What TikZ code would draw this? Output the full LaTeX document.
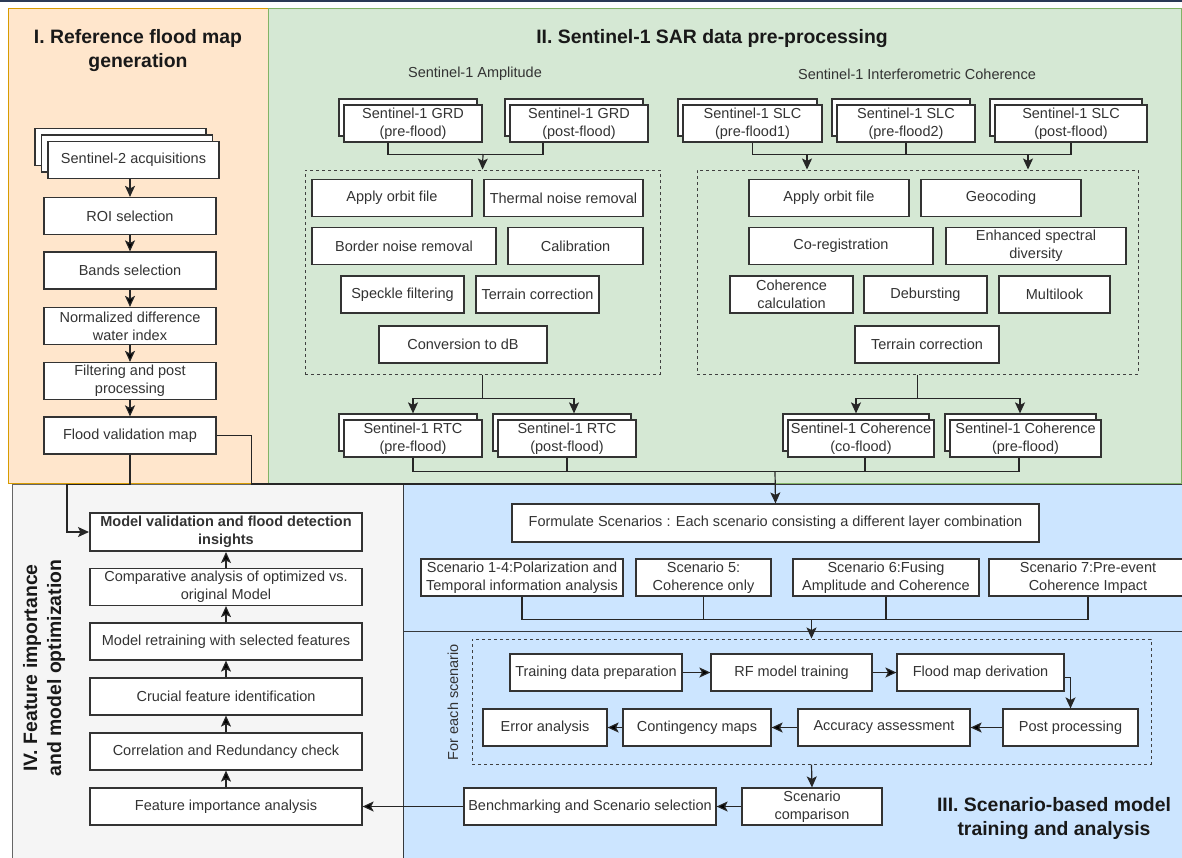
\documentclass[tikz,border=0pt]{standalone}
\usepackage{fontspec}
\setmainfont{Liberation Sans}
\usepackage{tikz}
\usetikzlibrary{positioning}
\usetikzlibrary{calc}
\usetikzlibrary{arrows.meta,shadows}

\definecolor{orangebg}{HTML}{FFE6CC}
\definecolor{orangeln}{HTML}{D79B00}
\definecolor{greenbg}{HTML}{D5E8D4}
\definecolor{greenln}{HTML}{82B366}
\definecolor{graybg}{HTML}{F5F5F5}
\definecolor{grayln}{HTML}{666666}
\definecolor{bluebg}{HTML}{CCE5FF}
\definecolor{blueln}{HTML}{36393D}
\definecolor{topbar}{HTML}{2B3A55}

\newcommand\boxfont{\fontsize{14.5}{18}\selectfont}
\newcommand\headfont{\fontsize{19.4}{24}\selectfont\bfseries}

\tikzset{
  stage/.style={draw=black!80, fill=white, line width=1.2pt, align=center, inner sep=1pt,
    minimum height=37pt, font=\boxfont, text=black!80},
  stack/.style={stage, copy shadow={shadow xshift=-5pt, shadow yshift=6pt}},
  stackthree/.style={stage, double copy shadow={shadow xshift=-6.5pt, shadow yshift=6.5pt}},
  group/.style={draw=black!75, dash pattern=on 3pt off 3pt, line width=1pt},
  flow/.style={line width=1.2pt, draw=black!85, -{Stealth[length=11pt,width=10pt,inset=2.5pt]}},
  link/.style={line width=1.2pt, draw=black!85},
  headline/.style={font=\headfont, align=center, text=black!90},
  caption/.style={font=\boxfont, text=black!80}
}

\begin{document}
\begin{tikzpicture}[x=1pt,y=-1pt]

  \useasboundingbox (0,0) rectangle (1182,857);
  \fill[topbar] (0,0) rectangle (1182,1.5);

  % regions
  \filldraw[fill=orangebg, draw=orangeln, line width=1pt] (8,8) rectangle (268,483);
  \filldraw[fill=greenbg, draw=greenln, line width=1pt] (268,8) rectangle (1181,483);
  \filldraw[fill=graybg, draw=grayln, line width=1pt] (12,484) rectangle (403,862);
  \filldraw[fill=bluebg, draw=blueln, line width=1pt] (403,484) rectangle (1186,631);
  \filldraw[fill=bluebg, draw=blueln, line width=1pt] (403,631) rectangle (1186,862);

  % I. reference flood map
  \node[headline] (refhead) at (138,51) {I. Reference flood map\\generation};
  \node[stackthree, minimum width=171pt] (s2) at (133.5,160) {Sentinel-2 acquisitions};
  \node[stage, minimum width=172pt] (roi) at (130,216) {ROI selection};
  \node[stage, minimum width=172pt] (bands) at (130,270.5) {Bands selection};
  \node[stage, minimum width=172pt] (ndwi) at (130,326) {Normalized difference\\water index};
  \node[stage, minimum width=172pt] (filt) at (130,381) {Filtering and post\\processing};
  \node[stage, minimum width=172pt] (fvm) at (130,435.5) {Flood validation map};
  \draw[flow] (s2.south -| roi.north) -- (roi.north);
  \path[flow] (roi) edge (bands) (bands) edge (ndwi) (ndwi) edge (filt) (filt) edge (fvm);

  % II. SAR pre-processing
  \node[headline] (sarhead) at (712,39) {II. Sentinel-1 SAR data pre-processing};
  \node[caption] (amplab) at (475,74) {Sentinel-1 Amplitude};
  \node[caption] (cohlab) at (917,74) {Sentinel-1 Interferometric Coherence};

  \node[stack, minimum width=138pt] (grdpre) at (413,123.5) {Sentinel-1 GRD\\(pre-flood)};
  \node[stack, minimum width=138pt] (grdpost) at (579,123.5) {Sentinel-1 GRD\\(post-flood)};
  \node[group, minimum width=355pt, minimum height=204pt] (ampgrp) at (482.5,272) {};
  \node[stage, minimum width=160pt] (orbit1) at (392,198) {Apply orbit file};
  \node[stage, minimum width=159pt] (thermal) at (563.5,198) {Thermal noise removal};
  \node[stage, minimum width=184pt] (border) at (404,246) {Border noise removal};
  \node[stage, minimum width=135pt] (calib) at (575.5,246) {Calibration};
  \node[stage, minimum width=123pt] (speckle) at (402.5,294.5) {Speckle filtering};
  \node[stage, minimum width=123pt] (terrain1) at (537.5,294.5) {Terrain correction};
  \node[stage, minimum width=168pt] (todb) at (463,344.5) {Conversion to dB};
  \node[stack, minimum width=138pt] (rtcpre) at (413,438.5) {Sentinel-1 RTC\\(pre-flood)};
  \node[stack, minimum width=138pt] (rtcpost) at (567,438.5) {Sentinel-1 RTC\\(post-flood)};

  \coordinate (ampsplit) at (483,154);
  \draw[link] ([xshift=-25pt]grdpre.south) -- ++(0,12) -| ([xshift=-36pt]grdpost.south);
  \draw[flow] (ampsplit) -- (ampgrp.north);
  \draw[link] (ampgrp.south) -- ++(0,24) coordinate (amprtc);
  \draw[flow] (amprtc) -| ([yshift=6pt]rtcpre.north);
  \draw[flow] (amprtc) -| ([yshift=6pt,xshift=7pt]rtcpost.north);

  \node[stack, minimum width=139pt] (slc1) at (752.5,123.5) {Sentinel-1 SLC\\(pre-flood1)};
  \node[stack, minimum width=138pt] (slc2) at (906,123.5) {Sentinel-1 SLC\\(pre-flood2)};
  \node[stack, minimum width=152pt] (slc3) at (1071,123.5) {Sentinel-1 SLC\\(post-flood)};
  \node[group, minimum width=441pt, minimum height=204pt] (cohgrp) at (917.5,272) {};
  \node[stage, minimum width=160pt] (orbit2) at (829,198) {Apply orbit file};
  \node[stage, minimum width=160pt] (geocod) at (1001,198) {Geocoding};
  \node[stage, minimum width=184pt] (coreg) at (841,246) {Co-registration};
  \node[stage, minimum width=180pt] (esd) at (1036,246) {Enhanced spectral\\diversity};
  \node[stage, minimum width=123pt] (cohcalc) at (791.5,294.5) {Coherence\\calculation};
  \node[stage, minimum width=123pt] (deburst) at (925.5,294.5) {Debursting};
  \node[stage, minimum width=111pt] (multilook) at (1054.5,294.5) {Multilook};
  \node[stage, minimum width=144pt] (terrain2) at (927,344.5) {Terrain correction};
  \node[stack, minimum width=146pt] (coh1) at (861,438.5) {Sentinel-1 Coherence\\(co-flood)};
  \node[stack, minimum width=151pt] (coh2) at (1025.5,438.5) {Sentinel-1 Coherence\\(pre-flood)};

  \coordinate (slcleft) at (807,154);
  \coordinate (slcright) at (1028,154);
  \draw[link] (slc1.south) -- ++(0,12) -| (slc3.south);
  \draw[link] (slc2.south) -- ++(0,12);
  \draw[flow] (slcleft) -- (slcleft |- cohgrp.north);
  \draw[flow] (slcright) -- (slcright |- cohgrp.north);
  \draw[link] (cohgrp.south) -- ++(0,24) coordinate (cohsplit);
  \draw[flow] (cohsplit) -| ([yshift=6pt,xshift=-5pt]coh1.north);
  \draw[flow] (cohsplit) -| ([yshift=6pt,xshift=-5.5pt]coh2.north);

  % merge into scenarios
  \coordinate (merge) at (775,471);
  \coordinate (fvmjoin) at (775,484);
  \draw[link] (rtcpre.south) -- ++(0,14) -| ([xshift=-6.5pt]coh2.south);
  \draw[link] (rtcpost.south) -- ++(0,14);
  \draw[link] ([xshift=4pt]coh1.south) -- ++(0,14);
  \draw[link] (fvm.east) -- ++(35,0) |- (fvmjoin);

  % III. scenarios
  \node[stage, minimum width=527pt, minimum height=38pt] (formulate) at (775.5,523) {Formulate Scenarios : Each scenario consisting a different layer combination};
  \draw[flow] (merge) -- (formulate.north);
  \node[stage, minimum width=202pt] (sc14) at (522,577.5) {Scenario 1-4:Polarization and\\Temporal information analysis};
  \node[stage, minimum width=135pt] (sc5) at (703.5,577.5) {Scenario 5:\\Coherence only};
  \node[stage, minimum width=186pt] (sc6) at (886,577.5) {Scenario 6:Fusing\\Amplitude and Coherence};
  \node[stage, minimum width=198pt] (sc7) at (1088,577.5) {Scenario 7:Pre-event\\Coherence Impact};
  \draw[link] (sc14.south) -- ++(0,23) -| (sc7.south);
  \draw[link] (sc5.south) -- ++(0,23);
  \draw[link] (sc6.south) -- ++(0,23);

  \node[group, minimum width=679pt, minimum height=125pt] (loop) at (811.5,701.5) {};
  \coordinate (scmerge) at (811.5,619.5);
  \draw[flow] (scmerge) -- (loop.north);
  \node[caption, rotate=90] (eachlbl) at (453,702) {For each scenario};
  \node[stage, minimum width=172pt] (tdp) at (596,672.5) {Training data preparation};
  \node[stage, minimum width=161pt] (rftrain) at (791.5,672.5) {RF model training};
  \node[stage, minimum width=167pt] (fmd) at (980.5,672.5) {Flood map derivation};
  \node[stage, minimum width=124pt] (errana) at (545,727.5) {Error analysis};
  \node[stage, minimum width=148pt] (contin) at (697,727.5) {Contingency maps};
  \node[stage, minimum width=172pt] (accass) at (884,727.5) {Accuracy assessment};
  \node[stage, minimum width=135pt] (postp) at (1070.5,727.5) {Post processing};
  \path[flow] (tdp) edge (rftrain) (rftrain) edge (fmd);
  \draw[flow] ([yshift=-5pt]fmd.east) -| (postp.north);
  \path[flow] (postp) edge (accass) (accass) edge (contin) (contin) edge (errana);

  \node[stage, minimum width=140pt] (scomp) at (812,806.5) {Scenario\\comparison};
  \node[stage, minimum width=252pt] (bench) at (590,806.5) {Benchmarking and Scenario selection};
  \draw[flow] (loop.south) -- (scomp.north);
  \path[flow] (scomp) edge (bench);
  \node[headline] (scenhead) at (1054,819) {III. Scenario-based model\\training and analysis};

  % IV. feature importance
  \node[headline, rotate=90] (feathead) at (44,668) {IV. Feature importance\\and model optimization};
  \node[stage, minimum width=272pt, minimum height=38pt, line width=2pt, font=\boxfont\bfseries] (insights) at (226,532) {Model validation and flood detection\\insights};
  \node[stage, minimum width=272pt] (compar) at (226,587) {Comparative analysis of optimized vs.\\original Model};
  \node[stage, minimum width=272pt] (retrain) at (226,641.5) {Model retraining with selected features};
  \node[stage, minimum width=272pt] (crucial) at (226,696.5) {Crucial feature identification};
  \node[stage, minimum width=272pt] (correl) at (226,751.5) {Correlation and Redundancy check};
  \node[stage, minimum width=272pt] (fia) at (226,806.5) {Feature importance analysis};
  \path[flow] (bench) edge (fia);
  \path[flow] (fia) edge (correl) (correl) edge (crucial) (crucial) edge (retrain) (retrain) edge (compar) (compar) edge (insights);
  \draw[flow] (fvm.south) -- ++(0,29.5) -- ++(-63,0) |- (insights.west);

\end{tikzpicture}
\end{document}
